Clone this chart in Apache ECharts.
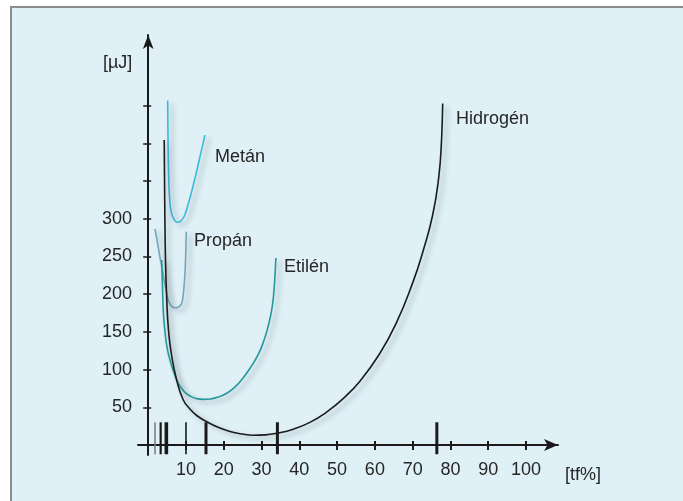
<!DOCTYPE html>
<html><head><meta charset="utf-8">
<script src="https://cdn.jsdelivr.net/npm/echarts@6/dist/echarts.min.js"></script>
<style>html,body{margin:0;padding:0;background:#fff}#c{width:683px;height:501px}</style>
</head><body><div id="c"></div>
<script>
// ---- data ----
const xTickValues = [10, 20, 30, 40, 50, 60, 70, 80, 90, 100];
const yTickValues = [50, 100, 150, 200, 250, 300, 350, 400, 450];
const yLabelValues = [50, 100, 150, 200, 250, 300];

const metanX = [5.15, 5.25, 5.4, 5.7, 6.2, 7.0, 7.7, 8.6, 9.5, 10.5, 11.5, 12.5, 13.5, 14.3, 15.0];
const metanY = [457, 405, 362, 325, 307, 298, 295.5, 297, 303, 318, 336, 356, 378, 395, 411];

const propanX = [1.8, 2.4, 2.94, 3.6, 4.18, 4.8, 5.32, 6.0, 6.7, 7.36, 8.0, 8.5, 8.87, 9.2, 9.48, 9.7, 9.82, 9.95, 10.08];
const propanY = [286.5, 270, 254, 236, 219, 204, 192, 185, 182.5, 182, 183, 185, 188, 196, 210, 225, 236.5, 255, 283];

const etilenX = [3.57, 3.79, 4.05, 4.45, 5.0, 5.77, 6.8, 7.97, 9.5, 11.06, 12.8, 14.6, 16.5, 18.5, 20.8, 23.0, 25.1, 27.2, 29.1, 30.5, 31.7, 32.5, 33.0, 33.4, 33.8];
const etilenY = [245.4, 205.6, 172.4, 149.9, 129, 112.7, 96, 81.8, 71, 65, 61.5, 60.5, 61, 63.5, 68.6, 77, 88.9, 103.6, 119.8, 136.6, 156.4, 174, 190, 212, 248];

const hidrogenX = [4.24, 4.37, 4.58, 4.92, 5.37, 6.17, 7.54, 9.29, 11.06, 12.84, 15.48, 18.5, 21.65, 24.8, 27.8, 31.0, 34.0, 38.4, 42.8, 47.2, 51.6, 56.1, 61.0, 65.5, 70.0, 72.8, 75.3, 76.9, 77.6, 77.95];
const hidrogenY = [404.6, 325, 245.4, 192.3, 152.5, 119.4, 86.2, 59.7, 47.7, 39.1, 30.9, 23.5, 18, 14.6, 12.9, 13.4, 15.5, 21, 30, 43.5, 61.5, 85, 119, 160, 215, 258, 305, 355, 400, 453];

const limitX = [1.8, 3.3, 4.8, 10, 15.3, 34.2, 76.4];
const limitBottom = [-12.3, -12.3, -12.3, -12.3, -12.3, -12.3, -12.3];
const limitTop = [30.1, 30.1, 30.1, 30.1, 30.1, 30.1, 30.1];

// ---- styles ----
const limitWidths = [1.5, 2.2, 3.6, 1.6, 3, 3, 3];
const limitColors = ['#7a7a7a', '#1a1a1a', '#1a1a1a', '#1a1a1a', '#1a1a1a', '#1a1a1a', '#1a1a1a'];
const FONT = '"Liberation Sans", Arial, sans-serif';
const FS = 18;
const TXT = '#262626';
const AX = '#1a1a1a';

function lineSeries(name, xs, ys, color, z) {
  return {
    type: 'line', name, z,
    data: xs.map((x, i) => [x, ys[i]]),
    smooth: 0.5, symbol: 'none', showSymbol: false, silent: true, clip: false,
    lineStyle: { color, width: 1.6, shadowColor: 'rgba(60,70,80,0.38)', shadowBlur: 5, shadowOffsetX: 4, shadowOffsetY: 3 }
  };
}

const chart = echarts.init(document.getElementById('c'), null, { renderer: 'canvas' });
const xCommon = { type: 'value', min: -2.7, max: 108.47, position: 'bottom', splitLine: { show: false } };
const yCommon = { type: 'value', min: -13.3, max: 543.8, position: 'left', splitLine: { show: false } };

chart.setOption({
  animation: false,
  grid: { left: 138, right: 125, top: 35, bottom: 46, containLabel: false, outerBoundsMode: 'none' },
  xAxis: [
    Object.assign({}, xCommon, {
      axisLine: { show: true, onZero: true, onZeroAxisIndex: 0, symbol: ['none', 'arrow'], symbolSize: [9, 14], lineStyle: { color: AX, width: 2 } },
      axisTick: { show: true, customValues: xTickValues, length: 5, lineStyle: { color: AX, width: 2 } },
      axisLabel: { show: true, customValues: xTickValues, margin: 6, fontSize: FS, fontFamily: FONT, color: TXT }
    }),
    Object.assign({}, xCommon, {
      axisLine: { show: false, onZero: true, onZeroAxisIndex: 0 },
      axisTick: { show: true, inside: true, customValues: xTickValues, length: 4, lineStyle: { color: AX, width: 2 } },
      axisLabel: { show: false }
    })
  ],
  yAxis: [
    Object.assign({}, yCommon, {
      axisLine: { show: true, onZero: true, onZeroAxisIndex: 0, symbol: ['none', 'arrow'], symbolSize: [8, 14], lineStyle: { color: AX, width: 2 } },
      axisTick: { show: true, customValues: yTickValues, length: 5, lineStyle: { color: AX, width: 1.5 } },
      axisLabel: { show: true, customValues: yLabelValues, margin: 6, fontSize: FS, fontFamily: FONT, color: TXT }
    }),
    Object.assign({}, yCommon, {
      axisLine: { show: false, onZero: true, onZeroAxisIndex: 0 },
      axisTick: { show: true, inside: true, customValues: yTickValues, length: 3, lineStyle: { color: AX, width: 1.5 } },
      axisLabel: { show: false }
    })
  ],
  graphic: [
    { type: 'rect', z: -10, silent: true, shape: { x: 11, y: 7, width: 700, height: 520 }, style: { fill: '#dff0f7', stroke: '#8c8c8c', lineWidth: 2 } },
    { type: 'text', z: 10, x: 103, y: 63, style: { text: '[µJ]', font: FS + 'px ' + FONT, fill: TXT, textAlign: 'left', textVerticalAlign: 'middle' } },
    { type: 'text', z: 10, x: 565, y: 475, style: { text: '[tf%]', font: FS + 'px ' + FONT, fill: TXT, textAlign: 'left', textVerticalAlign: 'middle' } },
    { type: 'text', z: 10, x: 215, y: 157, style: { text: 'Metán', font: FS + 'px ' + FONT, fill: TXT, textAlign: 'left', textVerticalAlign: 'middle' } },
    { type: 'text', z: 10, x: 194, y: 241, style: { text: 'Propán', font: FS + 'px ' + FONT, fill: TXT, textAlign: 'left', textVerticalAlign: 'middle' } },
    { type: 'text', z: 10, x: 284, y: 267, style: { text: 'Etilén', font: FS + 'px ' + FONT, fill: TXT, textAlign: 'left', textVerticalAlign: 'middle' } },
    { type: 'text', z: 10, x: 456, y: 119, style: { text: 'Hidrogén', font: FS + 'px ' + FONT, fill: TXT, textAlign: 'left', textVerticalAlign: 'middle' } }
  ],
  series: [
    {
      type: 'custom', z: 3, silent: true, clip: false,
      data: limitX.map((x, i) => [x, limitBottom[i], limitTop[i]]),
      encode: { x: 0, y: [1, 2] },
      renderItem: function (params, api) {
        const p1 = api.coord([api.value(0), api.value(1)]);
        const p2 = api.coord([api.value(0), api.value(2)]);
        return { type: 'line', shape: { x1: p1[0], y1: p1[1], x2: p2[0], y2: p2[1] },
          style: { stroke: limitColors[params.dataIndex], lineWidth: limitWidths[params.dataIndex] } };
      }
    },
    lineSeries('Metán', metanX, metanY, '#3cb9dc', 4),
    lineSeries('Propán', propanX, propanY, '#74a6bb', 4),
    lineSeries('Etilén', etilenX, etilenY, '#23999c', 4),
    lineSeries('Hidrogén', hidrogenX, hidrogenY, '#1c1c1c', 5)
  ]
});
</script></body></html>
